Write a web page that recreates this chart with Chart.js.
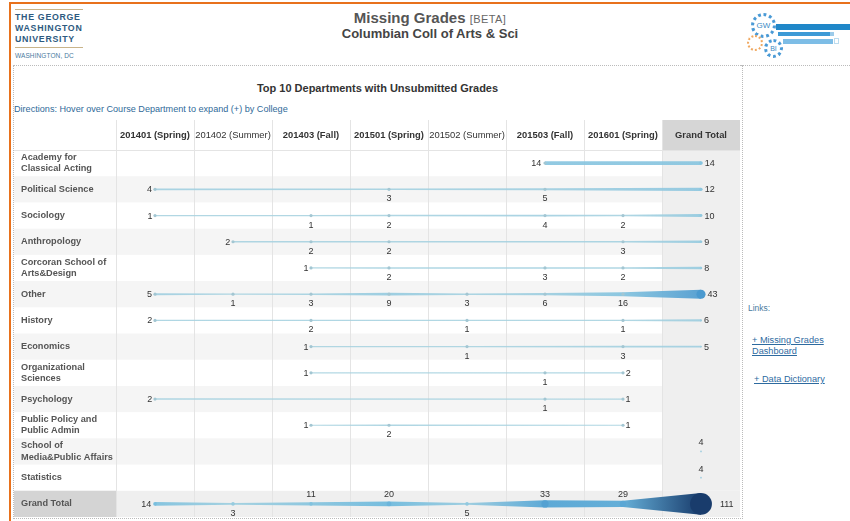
<!DOCTYPE html>
<html>
<head>
<meta charset="utf-8">
<script src="https://cdn.jsdelivr.net/npm/chart.js@4.4.0/dist/chart.umd.min.js"></script>
<style>
  body { margin:0; width:850px; height:521px; overflow:hidden; background:#fff; font-family:"Liberation Sans", Arial, sans-serif; position:relative; }
  .frame { position:absolute; left:9px; top:2px; width:845px; height:530px; border-top:2px solid #e8711c; border-left:2px solid #e8711c; }
  .logo { position:absolute; left:15px; top:9px; width:68px; color:#2d5a80; }
  .logo .rule { border-top:1px solid #c9b48a; margin:0; }
  .logo .name { font-weight:bold; font-size:8.8px; line-height:11px; letter-spacing:0.7px; padding:2px 0 2px 0; white-space:nowrap; }
  .logo .city { font-size:6.5px; color:#4a7aa0; margin-top:4px; letter-spacing:0.1px; white-space:nowrap; }
  .title { position:absolute; left:280px; width:300px; top:9px; text-align:center; color:#555; }
  .title .t1 { font-weight:bold; font-size:15px; }
  .title .t1 span { font-weight:normal; font-size:11px; letter-spacing:0.4px; color:#666; }
  .title .t2 { font-weight:bold; font-size:13px; color:#444; margin-top:0px; }
  .dash { position:absolute; left:13px; top:65px; width:728px; height:452px; border:1px dotted #bbb; }
  .topdots { position:absolute; left:741px; top:65px; width:109px; border-top:1px dotted #bbb; }
  .ctitle { position:absolute; left:13px; width:729px; top:82px; text-align:center; font-weight:bold; font-size:11px; color:#333; }
  .dir { position:absolute; left:14px; top:104px; font-size:9.1px; color:#2f6a99; }
  #wrap { position:absolute; left:14px; top:120px; width:726px; height:397px; }
  .links { position:absolute; left:748px; top:303px; font-size:8.5px; color:#4a7aa0; }
  .lk { position:absolute; font-size:9.2px; color:#2d6a9f; text-decoration:underline; line-height:11px; }
  .gear { position:absolute; border-radius:50%; box-sizing:border-box; text-align:center; font-size:8px; }
  .bar { position:absolute; }
</style>
</head>
<body>
<div class="frame"></div>
<div class="logo">
  <div class="rule"></div>
  <div class="name">THE GEORGE<br>WASHINGTON<br>UNIVERSITY</div>
  <div class="rule"></div>
  <div class="city">WASHINGTON, DC</div>
</div>
<div class="title">
  <div class="t1">Missing Grades <span>[BETA]</span></div>
  <div class="t2">Columbian Coll of Arts &amp; Sci</div>
</div>

<div class="bar" style="left:776px;top:24px;width:74px;height:6px;background:#1f87c8;"></div>
<div class="bar" style="left:778px;top:32px;width:52px;height:4px;background:#3d9ad6;"></div>
<div class="bar" style="left:830px;top:32px;width:4px;height:4px;background:#9ccbea;"></div>
<div class="bar" style="left:783px;top:39px;width:50px;height:5px;background:#7dbde6;"></div>
<div class="bar" style="left:834px;top:38px;width:5px;height:6px;border:1px solid #bcdcef;box-sizing:border-box;"></div>
<div class="gear" style="left:751px;top:13px;width:25px;height:25px;border:3px dotted #4a9ad6;background:#fff;color:#3a8ac4;line-height:19px;">GW</div>
<div class="gear" style="left:747px;top:35px;width:16px;height:16px;border:2px dotted #f0a860;background:#fff;"></div>
<div class="gear" style="left:764px;top:39px;width:19px;height:19px;border:3px dotted #4a9ad6;background:#fff;color:#3a8ac4;line-height:13px;font-size:7px;">BI</div>

<div class="dash"></div>
<div class="topdots"></div>
<div class="ctitle">Top 10 Departments with Unsubmitted Grades</div>
<div class="dir">Directions: Hover over Course Department to expand (+) by College</div>
<div id="wrap"><canvas id="grid" width="726" height="397"></canvas></div>

<div class="links">Links:</div>
<div class="lk" style="left:752px;top:335px;">+ Missing Grades<br>Dashboard</div>
<div class="lk" style="left:754px;top:374px;">+ Data Dictionary</div>

<script>
// ==============================
// Data
// ==============================
const periods = ["201401 (Spring)", "201402 (Summer)", "201403 (Fall)", "201501 (Spring)",
                 "201502 (Summer)", "201503 (Fall)", "201601 (Spring)", "Grand Total"];

const depts = ["Academy for Classical Acting", "Political Science", "Sociology", "Anthropology",
               "Corcoran School of Arts&Design", "Other", "History", "Economics",
               "Organizational Sciences", "Psychology", "Public Policy and Public Admin",
               "School of Media&Public Affairs", "Statistics", "Grand Total"];

const deptLines = [["Academy for", "Classical Acting"], ["Political Science"], ["Sociology"], ["Anthropology"],
                   ["Corcoran School of", "Arts&Design"], ["Other"], ["History"], ["Economics"],
                   ["Organizational", "Sciences"], ["Psychology"], ["Public Policy and", "Public Admin"],
                   ["School of", "Media&Public Affairs"], ["Statistics"], ["Grand Total"]];

const academy   = [null, null, null, null, null, 14, null, 14];
const polisci   = [4, null, null, 3, null, 5, null, 12];
const sociology = [1, null, 1, 2, null, 4, 2, 10];
const anthro    = [null, 2, 2, 2, null, null, 3, 9];
const corcoran  = [null, null, 1, 2, null, 3, 2, 8];
const other     = [5, 1, 3, 9, 3, 6, 16, 43];
const history   = [2, null, 2, null, 1, null, 1, 6];
const economics = [null, null, 1, null, 1, null, 3, 5];
const orgsci    = [null, null, 1, null, null, 1, 2, null];
const psych     = [2, null, null, null, null, 1, 1, null];
const pubpol    = [null, null, 1, 2, null, null, 1, null];
const smpa      = [null, null, null, null, null, null, null, 4];
const stats     = [null, null, null, null, null, null, null, 4];
const grandTotal = [14, 3, 11, 20, 5, 33, 29, 111];

const rows = [academy, polisci, sociology, anthro, corcoran, other, history,
              economics, orgsci, psych, pubpol, smpa, stats, grandTotal];

// ==============================
// Size / colour by value
// ==============================
const sizeOf = v => 0.5 + 0.094 * v;
const colorStops = [[0, [172, 212, 224]], [20, [118, 189, 222]], [45, [70, 150, 206]], [111, [25, 60, 108]]];
function colorOf(v, a) {
  let i = 0;
  while (i < colorStops.length - 2 && v > colorStops[i + 1][0]) i++;
  const [v0, c0] = colorStops[i], [v1, c1] = colorStops[i + 1];
  const t = Math.max(0, Math.min(1, (v - v0) / (v1 - v0)));
  const c = c0.map((x, k) => Math.round(x + (c1[k] - x) * t));
  return `rgba(${c[0]},${c[1]},${c[2]},${a == null ? 1 : a})`;
}

const lastRow = depts.length - 1;
const GT = periods.length - 1;

const datasets = rows.map((vals, r) => ({
  label: depts[r],
  data: vals.map((v, i) => v == null ? null : { x: periods[i], y: depts[r], v }).filter(Boolean),
  showLine: false,
  pointRadius: ctx => {
    const p = ctx.raw; if (!p) return 0;
    if (p.x === periods[GT]) return sizeOf(p.v);
    return r === lastRow ? Math.max(1.8, sizeOf(p.v)) : 1.6;
  },
  pointBackgroundColor: ctx => {
    const p = ctx.raw; if (!p) return "#999";
    if (p.x === periods[GT]) return colorOf(p.v);
    return r === lastRow ? colorOf(p.v + 5) : "#a3c6d2";
  },
  pointBorderWidth: 0
}));

// ==============================
// Plugins: backgrounds, tapered lines, labels
// ==============================
const bgPlugin = {
  id: "bg",
  beforeDraw(chart) {
    const { ctx, scales: { x, y }, chartArea: a } = chart;
    const colW = x.getPixelForValue(1) - x.getPixelForValue(0);
    const rowH = y.getPixelForValue(1) - y.getPixelForValue(0);
    ctx.save();
    depts.forEach((d, i) => {
      const yc = y.getPixelForValue(i);
      if (i === lastRow) {
        ctx.fillStyle = "#efefef"; ctx.fillRect(0, yc - rowH / 2, a.right, rowH);
        ctx.fillStyle = "#d4d4d4"; ctx.fillRect(0, yc - rowH / 2, a.left, rowH);
      } else if (i % 2 === 1) {
        ctx.fillStyle = "#f5f5f5"; ctx.fillRect(0, yc - rowH / 2, a.right, rowH);
      }
    });
    const gx = x.getPixelForValue(GT);
    ctx.fillStyle = "#d6d6d6"; ctx.fillRect(gx - colW / 2, 0, colW, a.top);
    ctx.fillStyle = "#efefef"; ctx.fillRect(gx - colW / 2, a.top, colW, y.getPixelForValue(lastRow) - rowH / 2 - a.top);
    ctx.strokeStyle = "#e4e4e4"; ctx.lineWidth = 1;
    for (let i = 0; i <= GT; i++) {
      const xx = Math.round(x.getPixelForValue(i) - colW / 2) + 0.5;
      ctx.beginPath(); ctx.moveTo(xx, 0); ctx.lineTo(xx, a.bottom); ctx.stroke();
    }
    ctx.beginPath(); ctx.moveTo(0, a.top + 0.5); ctx.lineTo(a.right, a.top + 0.5); ctx.stroke();
    ctx.restore();
  }
};

const taperPlugin = {
  id: "taper",
  beforeDatasetsDraw(chart) {
    const ctx = chart.ctx;
    ctx.save();
    chart.data.datasets.forEach((ds, d) => {
      const pts = chart.getDatasetMeta(d).data;
      for (let k = 0; k < pts.length - 1; k++) {
        const p0 = pts[k], p1 = pts[k + 1];
        const v0 = ds.data[k].v, v1 = ds.data[k + 1].v;
        const r0 = sizeOf(v0), r1 = sizeOf(v1);
        const g = ctx.createLinearGradient(p0.x, 0, p1.x, 0);
        const a = d === lastRow ? 1 : 0.9;
        g.addColorStop(0, colorOf(v0, a)); g.addColorStop(1, colorOf(v1, a));
        ctx.fillStyle = g;
        ctx.beginPath();
        ctx.moveTo(p0.x, p0.y - r0); ctx.lineTo(p1.x, p1.y - r1);
        ctx.lineTo(p1.x, p1.y + r1); ctx.lineTo(p0.x, p0.y + r0);
        ctx.closePath(); ctx.fill();
      }
    });
    ctx.restore();
  }
};

const labelPlugin = {
  id: "vals",
  afterDatasetsDraw(chart) {
    const ctx = chart.ctx;
    ctx.save();
    ctx.font = "9px 'Liberation Sans', Arial, sans-serif";
    ctx.fillStyle = "#333";
    chart.data.datasets.forEach((ds, d) => {
      const pts = chart.getDatasetMeta(d).data;
      const n = pts.length;
      pts.forEach((p, k) => {
        const v = ds.data[k].v, r = sizeOf(v);
        let tx = p.x, ty = p.y, align = "center";
        if (n === 1) { ty = p.y - 9; }
        else if (k === 0) { align = "right"; tx = p.x - r - 2; }
        else if (k === n - 1) { align = "left"; tx = p.x + r + 2 + (r > 6 ? 6 : 0); }
        else if (d === lastRow && v >= 10) { ty = p.y - 10; }
        else { ty = p.y + 9; }
        ctx.textAlign = align; ctx.textBaseline = "middle";
        ctx.fillText(String(v), tx, ty + 0.5);
      });
    });
    ctx.restore();
  }
};

// scale label overflow padding is not wanted: the grid fills the canvas
function noPad(s) { s.paddingTop = 0; s.paddingBottom = 0; s.paddingLeft = 0; s.paddingRight = 0; }

// ==============================
// Chart
// ==============================
new Chart(document.getElementById("grid").getContext("2d"), {
  type: "line",
  data: { datasets },
  options: {
    responsive: false,
    animation: false,
    clip: false,
    layout: { autoPadding: false, padding: { left: 7, right: 0, top: 0, bottom: 0 } },
    plugins: { legend: { display: false }, tooltip: { enabled: false } },
    scales: {
      x: {
        type: "category", labels: periods, position: "top", offset: true,
        grid: { display: false, drawTicks: false }, border: { display: false },
        ticks: {
          autoSkip: false, maxRotation: 0, padding: 9, color: "#333",
          font: c => ({ family: "'Liberation Sans', Arial, sans-serif", size: 9.4,
                        weight: /Summer/.test(periods[c.index]) ? "normal" : "bold" })
        },
        afterFit(s) { s.height = 30; noPad(s); }
      },
      y: {
        type: "category", labels: depts, offset: true,
        grid: { display: false, drawTicks: false }, border: { display: false },
        ticks: {
          autoSkip: false, crossAlign: "far", color: "#555",
          font: { family: "'Liberation Sans', Arial, sans-serif", size: 9.2, weight: "bold", lineHeight: 1.2 },
          callback: v => deptLines[v]
        },
        afterFit(s) { s.width = 95; noPad(s); }
      }
    }
  },
  plugins: [bgPlugin, taperPlugin, labelPlugin]
});
</script>
</body>
</html>
